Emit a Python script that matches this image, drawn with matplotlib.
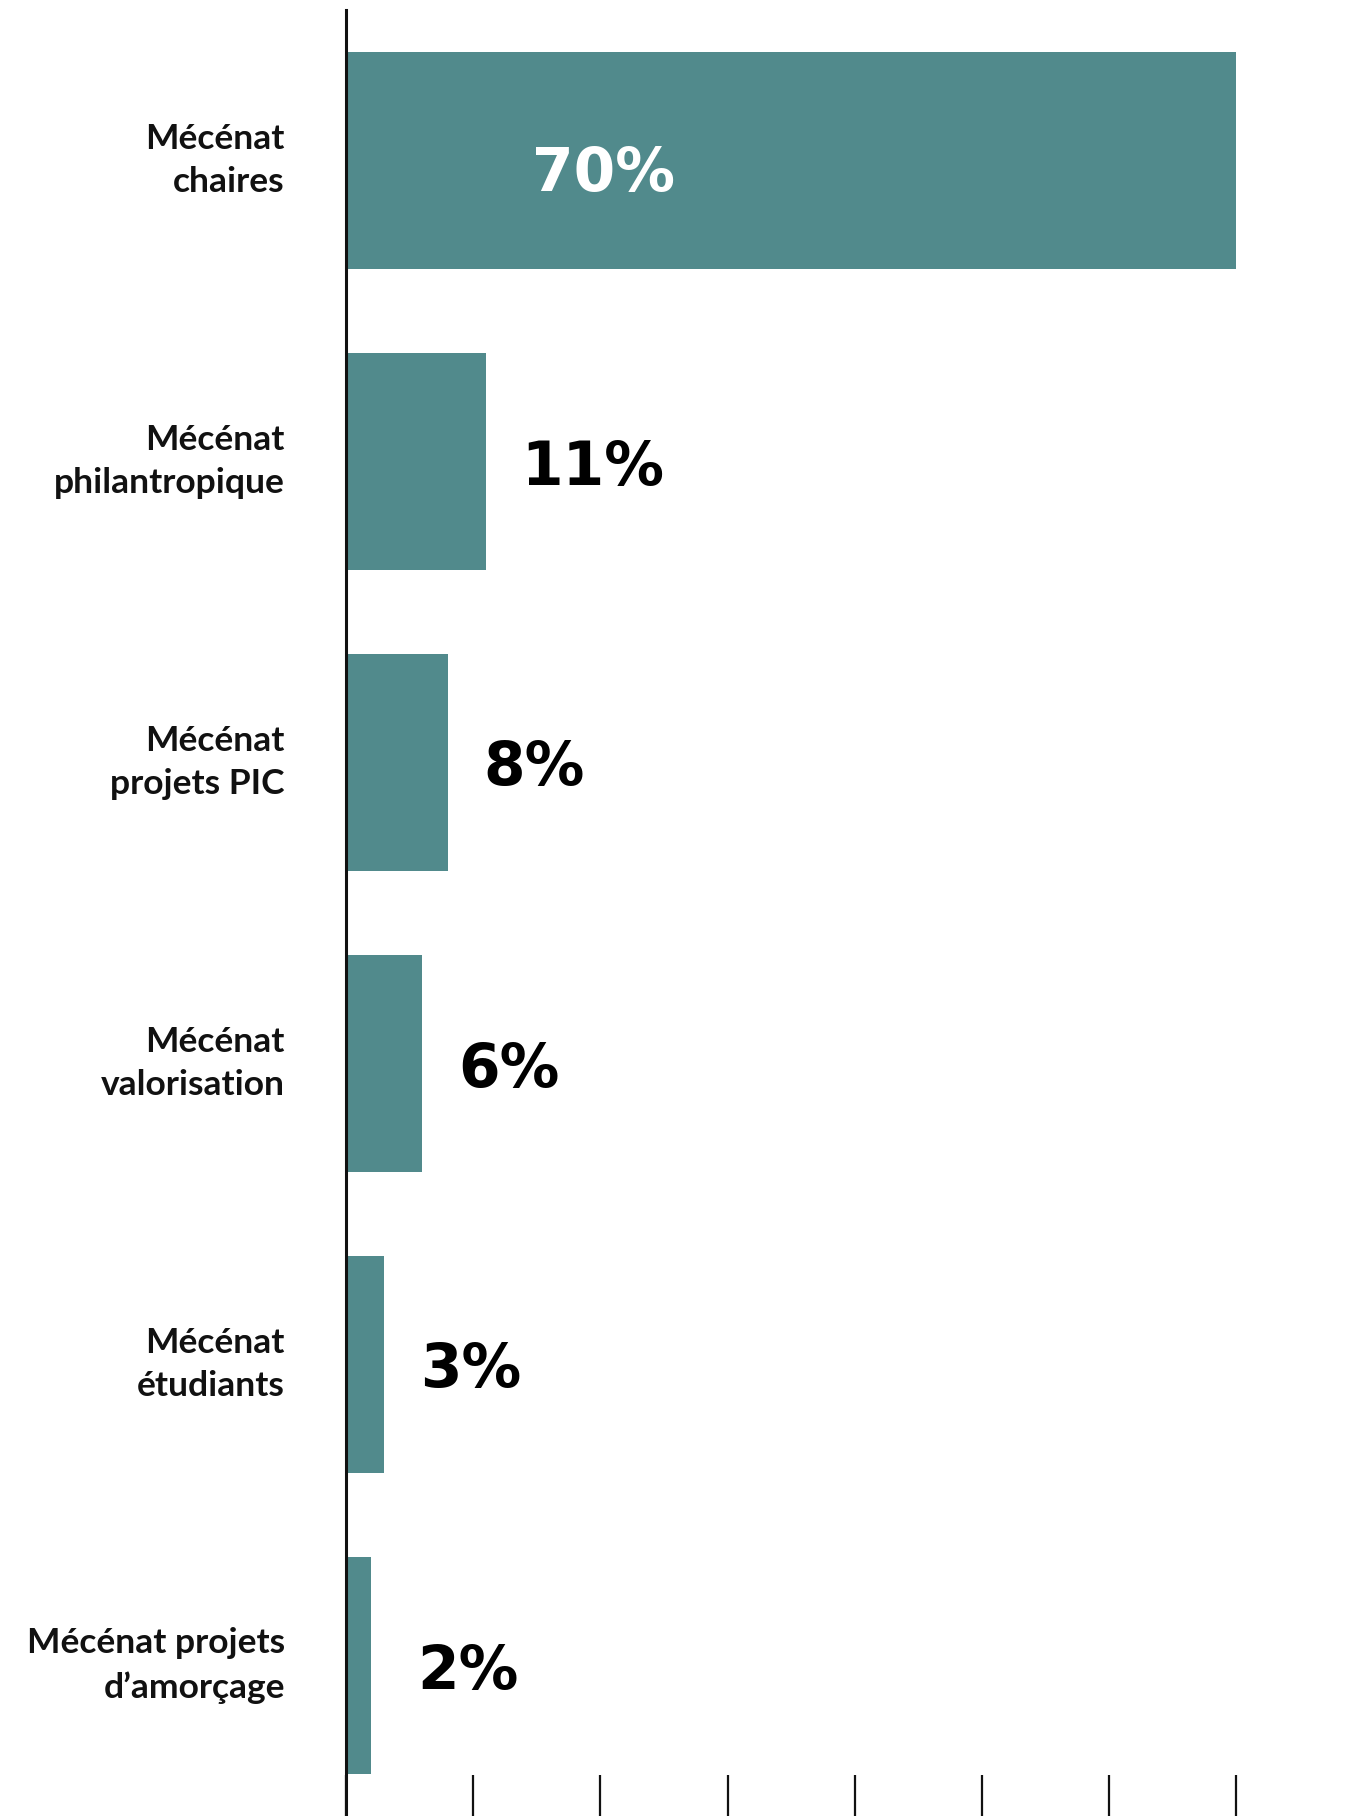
import matplotlib
matplotlib.use("Agg")
import matplotlib.pyplot as plt

categories = ["Mécénat\nchaires", "Mécénat\nphilantropique", "Mécénat\nprojets PIC",
              "Mécénat\nvalorisation", "Mécénat\nétudiants", "Mécénat projets\nd’amorçage"]
values = [70, 11, 8, 6, 3, 2]
value_labels = ["70%", "11%", "8%", "6%", "3%", "2%"]
x_ticks = [0, 10, 20, 30, 40, 50, 60, 70]

W, H, DPI = 1354, 1816, 100
fig = plt.figure(figsize=(W / DPI, H / DPI), dpi=DPI)
left_px, top_px = 346, 10
ax = fig.add_axes([left_px / W, 0, 1 - left_px / W, (H - top_px) / H])

bar_color = "#518a8c"
y = list(range(len(categories)))
ax.barh(y, values, height=0.72, color=bar_color, zorder=2)
ax.set_ylim(len(categories) - 0.5, -0.5)
ax.set_xlim(0, (W - left_px) / 12.72)

for sp in ["top", "right", "bottom"]:
    ax.spines[sp].set_visible(False)
ax.spines["left"].set_linewidth(2.2)
ax.spines["left"].set_color("#111111")
ax.spines["left"].set_zorder(3)

ax.set_xticks(x_ticks)
ax.set_xticklabels([])
ax.tick_params(axis="x", direction="in", length=41 * 72 / DPI, width=1.6, color="#111111")
ax.set_yticks([])

# category labels
for yi, cat in zip(y, categories):
    ax.annotate(cat, xy=(0, yi), xycoords=("axes fraction", "data"),
                xytext=(285 - left_px, 0), textcoords="offset pixels",
                ha="right", va="center", fontsize=25.5, fontfamily="Lato",
                fontweight="bold", color="#111111", linespacing=1.45)

# value labels
for yi, v, lab in zip(y, values, value_labels):
    if v > 50:
        ax.annotate(lab, xy=(14.6, yi), xytext=(0, -8), textcoords="offset pixels",
                    ha="left", va="center_baseline", fontsize=43,
                    fontweight="bold", color="white", zorder=4)
    else:
        ax.text(max(v + 2.8, 5.6), yi, lab, ha="left", va="center_baseline", fontsize=43,
                fontweight="bold", color="black", zorder=4)

fig.savefig("out.png", dpi=DPI, facecolor="white")
